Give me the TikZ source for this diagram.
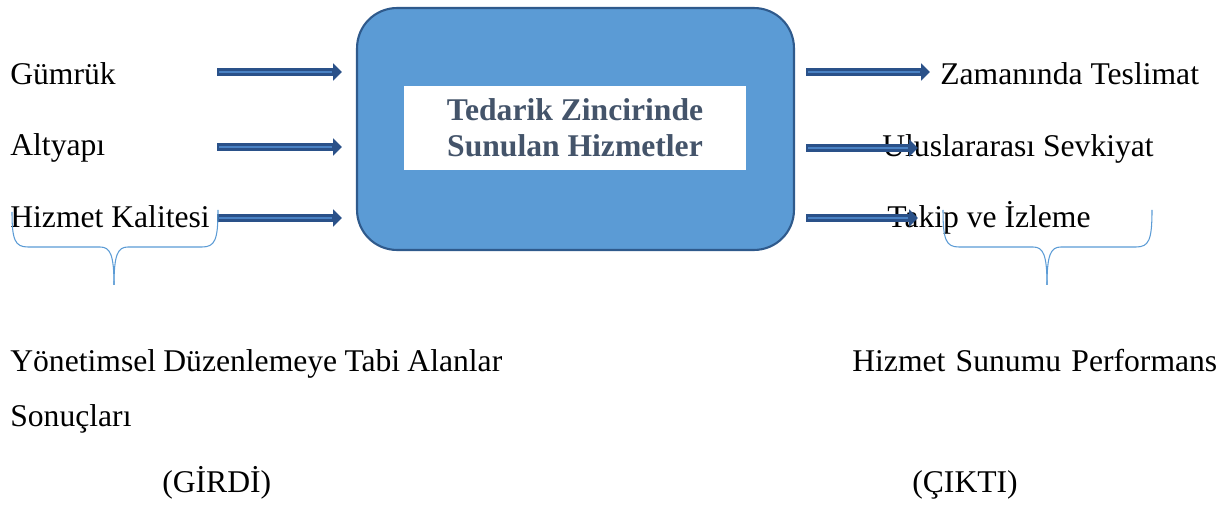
\documentclass[tikz,border=0pt]{standalone}
\usepackage{fontspec}
\setmainfont{Liberation Serif}
\usetikzlibrary{positioning,calc,arrows.meta}
\definecolor{boxblue}{HTML}{5B9BD5}
\definecolor{boxline}{HTML}{2F5A8C}
\definecolor{arrowdark}{HTML}{2A5189}
\definecolor{arrowlight}{HTML}{4A82C4}
\definecolor{titlegray}{HTML}{44546A}
\tikzset{lbl/.style={anchor=base west,inner sep=0pt,font=\fontsize{18}{21}\selectfont},
  flow/.style={draw=arrowdark,line width=4pt,-{Triangle[length=5pt,width=9.5pt]},
    postaction={draw=arrowlight,line width=1.5pt,-,shorten >=5.5pt,shorten <=1.2pt}},
  brace/.style={draw=boxblue,line width=0.6pt}}

\begin{document}
\begin{tikzpicture}[x=0.02cm,y=-0.02cm]
\useasboundingbox (0,0) rectangle (1228,506);
\node[draw=boxline,fill=boxblue,line width=1.2pt,rounded corners=0.8cm,minimum width=8.74cm,minimum height=4.84cm] (box) at (575.5,129) {};
\node[fill=white,minimum width=6.84cm,minimum height=1.68cm,align=center,text=titlegray,font=\fontsize{18}{20.5}\selectfont\bfseries] (title) at (575,128) {Tedarik Zincirinde\\Sunulan Hizmetler};
\node[lbl] (gumruk) at (10,85) {Gümrük};
\node[lbl] (altyapi) at (10,156) {Altyapı};
\node[lbl] (kalite) at (10,228) {Hizmet Kalitesi};
\node[lbl] (zaman) at (940,85) {Zamanında Teslimat};
\node[lbl] (sevkiyat) at (882,157) {Uluslararası Sevkiyat};
\node[lbl] (takip) at (887,228) {Takip ve İzleme};
\coordinate (in1) at (217,72);
\coordinate (in2) at (217,147);
\coordinate (in3) at (217,218);
\coordinate (out1) at (930,72);
\coordinate (out2) at (918,148);
\coordinate (out3) at (918,218);
\draw[flow] (in1) -- ($(in1 -| box.west)+(-14,0)$);
\draw[flow] (in2) -- ($(in2 -| box.west)+(-14,0)$);
\draw[flow] (in3) -- ($(in3 -| box.west)+(-14,0)$);
\draw[flow] ($(out1 -| box.east)+(11,0)$) -- (out1);
\draw[flow] ($(out2 -| box.east)+(11,0)$) -- (out2);
\draw[flow] ($(out3 -| box.east)+(11,0)$) -- (out3);
\draw[brace] (12,212) .. controls (12,240) and (15,247) .. (28,247) -- (100,247) .. controls (110,247) and (114,254) .. (114,285);
\draw[brace] (114,285) .. controls (114,254) and (118,247) .. (128,247) -- (202,247) .. controls (215,247) and (218,240) .. (218,210);
\draw[brace] (943,210) .. controls (943,240) and (946,247) .. (959,247) -- (1033,247) .. controls (1043,247) and (1047,254) .. (1047,285);
\draw[brace] (1047,285) .. controls (1047,254) and (1051,247) .. (1061,247) -- (1136,247) .. controls (1149,247) and (1152,240) .. (1152,210);
\node[lbl] (alanlar) at (10,372) {\makebox[9.84cm][s]{Yönetimsel Düzenlemeye Tabi Alanlar}};
\node[lbl] (performans) at (852,372) {\makebox[7.3cm][s]{Hizmet Sunumu Performans}};
\node[lbl] (sonuc) at (10,427) {Sonuçları};
\node[lbl] (girdi) at (162,493) {(GİRDİ)};
\node[lbl] (cikti) at (912,493) {(ÇIKTI)};
\end{tikzpicture}
\end{document}
